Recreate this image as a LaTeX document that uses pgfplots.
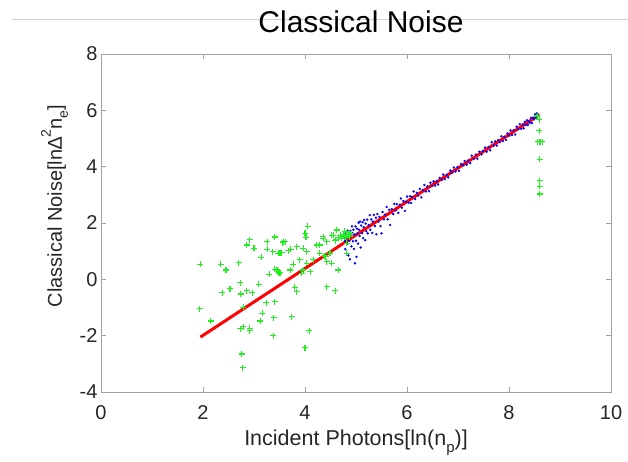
\documentclass[border=0pt]{standalone}
\usepackage{pgfplots}
\pgfplotsset{compat=1.18}
\usepackage{fontspec}
\setmainfont{Liberation Sans}
\definecolor{axgray}{RGB}{160,160,160}
\definecolor{txtgray}{RGB}{38,38,38}
\definecolor{lgreen}{RGB}{30,240,30}
\begin{document}
\begin{tikzpicture}[x=1pt,y=1pt]
\useasboundingbox (0,0) rectangle (628,461);
\draw[gray!35, line width=1pt] (12,441) -- (628,441);
\begin{axis}[
  at={(101pt,69pt)}, anchor=south west,
  width=510pt, height=338pt, scale only axis,
  xmin=0, xmax=10, ymin=-4, ymax=8,
  xtick={0,2,...,10}, ytick={-4,-2,...,8},
  tick align=inside, major tick length=5pt,
  axis line style={axgray, line width=0.8pt},
  every tick/.style={axgray, line width=0.8pt},
  /pgf/number format/assume math mode=true,
  ticklabel style={font=\fontsize{20}{24}\selectfont, text=txtgray},
  xticklabel style={anchor=base, yshift=-27.5pt},
  title={Classical Noise},
  title style={font=\fontsize{30}{36}\selectfont, at={(axis description cs:0.5,1)}, anchor=base, yshift=15.5pt, xshift=5pt},
  xlabel={Incident Photons[ln(n\raisebox{-0.35em}{\fontsize{15}{15}\selectfont p})]},
  xlabel style={font=\fontsize{21.5}{26}\selectfont, text=txtgray, at={(axis description cs:0.5,0)}, anchor=base, yshift=-53pt},
  ylabel={Classical Noise[ln∆\raisebox{0.55em}{\fontsize{14}{14}\selectfont 2}n\raisebox{-0.3em}{\fontsize{14}{14}\selectfont e}]},
  ylabel style={font=\fontsize{20}{24}\selectfont, text=txtgray, at={(axis description cs:-0.0765,0.55)}, anchor=base},
  clip=false,
]
% blue points
\addplot[only marks, mark=*, mark size=1pt, color=blue] coordinates {
(4.76,1.49)(4.78,1.36)(4.79,1.07)(4.80,1.64)(4.82,1.48)(4.83,1.27)(4.84,1.73)(4.85,0.85)
(4.86,1.59)(4.87,1.37)(4.88,0.71)(4.89,1.72)(4.90,1.53)(4.91,1.17)(4.92,1.88)(4.93,1.64)
(4.94,1.35)(4.95,1.76)(4.96,1.08)(4.97,1.59)(4.98,0.57)(4.99,1.88)(5.00,1.37)(5.01,0.80)
(5.02,1.80)(5.03,1.63)(5.04,1.27)(5.05,2.01)(5.06,1.76)(5.07,1.54)(5.08,2.05)(5.09,1.13)
(5.10,1.91)(5.12,1.64)(5.13,2.03)(5.14,1.46)(5.15,1.85)(5.16,2.11)(5.18,1.39)(5.19,1.98)
(5.20,1.71)(5.22,2.12)(5.23,1.63)(5.25,1.92)(5.27,2.28)(5.28,1.76)(5.30,2.13)(5.32,1.65)
(5.33,2.05)(5.35,2.29)(5.37,1.89)(5.39,2.19)(5.40,1.60)(5.42,2.32)(5.44,2.05)(5.46,2.22)
(5.48,1.89)(5.50,1.63)
(5.52,2.39)(5.55,2.13)(5.57,2.30)(5.60,2.57)(5.62,2.13)(5.65,2.47)(5.67,1.93)(5.70,2.49)
(5.73,2.32)(5.75,2.68)(5.78,2.45)(5.80,2.67)(5.83,2.36)(5.86,2.65)(5.88,2.87)(5.90,2.54)
(5.93,2.78)(5.96,2.43)(5.98,2.76)(6.00,2.94)(6.03,2.72)(6.06,2.95)(6.08,2.71)(6.10,2.93)
(6.13,3.12)(6.16,2.85)(6.19,3.07)(6.22,2.97)(6.25,3.21)(6.28,2.91)(6.31,3.17)(6.34,3.35)
(6.37,3.12)(6.40,3.30)(6.43,3.13)(6.46,3.43)(6.49,3.31)
(6.52,3.48)(6.55,3.33)(6.58,3.49)(6.61,3.37)(6.64,3.60)(6.68,3.53)(6.71,3.72)(6.74,3.56)
(6.78,3.71)(6.81,3.62)(6.85,3.86)(6.88,3.78)(6.92,3.97)(6.95,3.83)(6.99,3.98)(7.02,3.85)
(7.06,4.10)(7.10,4.05)(7.13,4.20)(7.17,4.07)(7.20,4.22)(7.24,4.13)(7.27,4.39)(7.31,4.28)
(7.35,4.43)(7.38,4.28)(7.42,4.53)(7.46,4.44)(7.49,4.55)
(7.53,4.68)(7.56,4.53)(7.60,4.70)(7.63,4.58)(7.66,4.87)(7.70,4.75)(7.73,4.90)(7.76,4.75)
(7.79,4.94)(7.82,4.87)(7.85,5.08)(7.88,4.91)(7.91,5.06)(7.94,4.95)(7.97,5.18)(8.00,5.10)
(8.03,5.29)(8.06,5.12)(8.09,5.29)(8.12,5.14)(8.15,5.42)(8.18,5.33)(8.21,5.51)(8.24,5.34)
(8.27,5.50)(8.29,5.36)(8.31,5.59)(8.33,5.48)(8.35,5.65)(8.37,5.48)(8.39,5.62)(8.41,5.56)
(8.43,5.73)(8.45,5.55)(8.47,5.74)(8.49,5.68)(8.51,5.86)(8.53,5.75)(8.55,5.89)
};
% green points
\addplot[only marks, mark=+, mark size=3pt, color=lgreen, line width=1.1pt] coordinates {
(2.92,1.40)(2.86,1.22)(3.00,1.10)(3.41,1.49)(3.26,1.34)(3.56,1.30)(3.61,1.34)(3.26,1.07)
(3.37,0.98)(3.48,0.92)(3.54,0.95)(3.67,1.02)(3.14,0.78)(1.95,0.54)(2.35,0.54)(2.45,0.33)
(2.70,0.59)(3.41,0.36)(3.30,0.18)(3.49,0.21)(2.73,-0.12)(3.09,-0.17)(2.53,-0.34)(2.38,-0.47)
(2.86,-0.41)(2.97,-0.47)(2.74,-0.52)(3.24,-0.83)(3.41,-0.79)(1.94,-1.05)(2.79,-0.99)(3.16,-1.21)
(2.15,-1.48)(3.12,-1.48)(3.39,-1.36)(2.79,-1.68)(2.73,-1.76)(2.92,-1.74)(2.92,-1.83)(3.38,-2.00)
(2.76,-2.65)(2.78,-3.14)
(4.05,1.89)(4.00,1.63)(4.02,1.49)(3.57,1.34)(3.41,1.51)(3.72,1.07)(3.51,0.95)(3.84,1.16)
(3.97,1.10)(4.03,0.98)(4.23,1.22)(4.29,1.22)(4.36,1.51)(4.52,1.57)(4.69,1.57)(4.59,1.37)
(4.43,1.34)(4.78,1.51)(4.85,1.66)(4.16,0.69)(4.29,0.92)(4.39,0.83)(4.49,0.92)(3.90,0.69)
(4.03,0.57)(3.77,0.54)(3.45,0.33)(3.71,0.33)(3.97,0.33)(3.51,0.24)(4.65,0.33)(4.43,-0.26)
(4.59,-0.40)(3.80,-0.28)(3.84,-0.44)(3.74,-1.33)
(4.62,1.75)(4.55,1.57)(4.36,1.46)(4.82,1.28)(4.82,0.92)(4.08,-1.83)(4.00,-2.43)
(4.43,0.63)(4.41,0.80)(4.52,0.57)(4.10,0.27)(3.94,0.21)
(4.70,1.55)(4.75,1.60)(4.80,1.50)(4.82,1.65)(4.86,1.58)(4.90,1.62)(4.72,1.45)(4.78,1.70)
(4.88,1.52)(4.65,1.48)(4.60,1.40)
(8.55,5.80)(8.59,5.66)(8.59,5.28)(8.56,4.88)(8.59,4.88)(8.62,4.88)(8.65,4.88)(8.60,4.27)
(8.60,3.50)(8.60,3.31)(8.60,3.03)
};
% red fit line
\addplot[red, line width=3pt] coordinates {(1.95,-2.05)(8.60,5.85)};
\end{axis}
\end{tikzpicture}
\end{document}
